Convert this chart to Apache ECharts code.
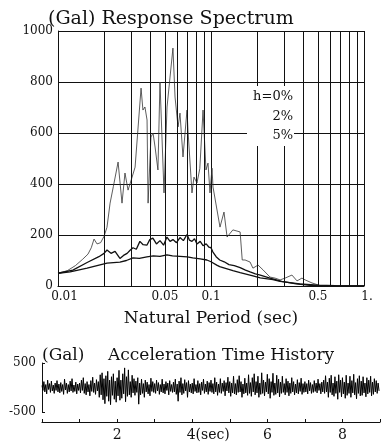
<!DOCTYPE html>
<html>
<head>
<meta charset="utf-8">
<script src="https://cdn.jsdelivr.net/npm/echarts@6/dist/echarts.min.js"></script>
<style>
html, body { margin: 0; padding: 0; background: #fff; }
#chart { width: 383px; height: 445px; }
</style>
</head>
<body>
<div id="chart"></div>
<script>
// 応答スペクトル：周期(sec) と 加速度(Gal)
const period0 = [0.01, 0.0115, 0.013, 0.0145, 0.0157, 0.0165, 0.0172, 0.018, 0.019, 0.02, 0.0209, 0.0219, 0.023, 0.0247, 0.0262, 0.0274, 0.0287, 0.0305, 0.0319, 0.0349, 0.0359, 0.037, 0.0382, 0.0388, 0.0405, 0.0418, 0.0431, 0.045, 0.0464, 0.0493, 0.0516, 0.0564, 0.0582, 0.0609, 0.0627, 0.0656, 0.0697, 0.0707, 0.0751, 0.0774, 0.081, 0.0845, 0.0887, 0.0927, 0.0956, 0.0985, 0.1015, 0.1031, 0.1145, 0.1216, 0.1274, 0.139, 0.155, 0.16, 0.167, 0.18, 0.188, 0.203, 0.219, 0.225, 0.243, 0.262, 0.283, 0.305, 0.338, 0.365, 0.393, 0.412, 0.457, 0.515, 0.7, 1.0];
const h0 = [50, 60, 80, 105, 125, 150, 184, 165, 170, 195, 230, 325, 390, 486, 325, 443, 376, 427, 466, 776, 690, 702, 651, 325, 584, 600, 545, 455, 800, 365, 702, 933, 741, 624, 678, 506, 690, 612, 365, 427, 404, 460, 690, 455, 482, 365, 462, 388, 231, 290, 192, 220, 212, 102, 102, 94, 70, 82, 63, 70, 35, 31, 24, 31, 43, 20, 31, 24, 12, 2, 0, 0];

const period2 = [0.01, 0.0125, 0.0155, 0.0185, 0.02, 0.0209, 0.0222, 0.0236, 0.0254, 0.0268, 0.0283, 0.0296, 0.0309, 0.0325, 0.0343, 0.036, 0.0381, 0.0398, 0.0417, 0.044, 0.0464, 0.049, 0.0515, 0.054, 0.0564, 0.0595, 0.0627, 0.066, 0.0697, 0.0722, 0.0751, 0.078, 0.081, 0.085, 0.0887, 0.093, 0.097, 0.1, 0.103, 0.108, 0.114, 0.122, 0.131, 0.142, 0.155, 0.168, 0.18, 0.195, 0.21, 0.243, 0.29, 0.36, 0.46, 0.6, 1.0];
const h2 = [50, 62, 92, 115, 128, 141, 128, 136, 108, 120, 128, 140, 150, 144, 175, 162, 160, 182, 188, 165, 178, 160, 192, 175, 182, 170, 190, 178, 202, 180, 175, 185, 165, 175, 158, 165, 152, 150, 133, 115, 102, 95, 84, 80, 72, 62, 55, 48, 43, 31, 18, 8, 2, 0, 0];

const period5 = [0.01, 0.012, 0.0155, 0.0209, 0.0254, 0.028, 0.0309, 0.034, 0.0381, 0.042, 0.0464, 0.0515, 0.056, 0.0627, 0.07, 0.076, 0.085, 0.094, 0.1, 0.109, 0.114, 0.139, 0.155, 0.188, 0.21, 0.254, 0.283, 0.38, 0.5, 0.65, 1.0];
const h5 = [50, 55, 70, 90, 94, 100, 110, 108, 114, 118, 116, 122, 118, 116, 114, 110, 106, 102, 95, 82, 76, 60, 52, 40, 32, 25, 18, 8, 3, 1, 0];

const periodTicks = [0.01, 0.05, 0.1, 0.5, 1];
const periodTickLabels = { 0.01: '{pad|}0.01', 0.05: '0.05', 0.1: '0.1', 0.5: '0.5', 1: '{pad2|}1.' };
const periodGrid = [0.02, 0.03, 0.04, 0.05, 0.06, 0.07, 0.08, 0.09, 0.2, 0.3, 0.4, 0.5, 0.6, 0.7, 0.8, 0.9];
const dampingLabels = ['h=0%', '2%', '5%'];

// 加速度時刻歴 (Gal)、刻み 0.025 sec
const DT = 0.025;
const accel = [
	40, -60, 120, -90, 60, -130, 150, -40, 80, -100, 130, -70, 50, -120, 90, -60, 140, -90, 70, -110,
	100, -80, 60, -140, 170, -50, 90, -120, 60, -90, 130, -70, 180, -100, 50, -80, 110, -130, 70, -60,
	90, -110, 150, -60, 200, -120, 80, -150, 120, -90, 60, -170, 140, -80, 210, -100, 90, -140, 160, -70,
	120, -200, 260, -150, 300, -250, 180, -330, 240, -180, 330, -280, 150, -350, 220, -160, 280, -240, 130, -300,
	200, -170, 350, -260, 150, -220, 280, -130, 400, -290, 220, -180, 360, -150, 120, -200, 250, -110, 180, -160,
	130, -100, 200, -340, 90, -150, 170, -120, 80, -200, 150, -90, 110, -130, 60, -170, 190, -80, 120, -100,
	80, -120, 150, -70, 100, -140, 60, -90, 170, -110, 70, -130, 120, -60, 90, -150, 140, -80, 60, -100,
	110, -90, 170, -140, 70, -280, 130, -100, 200, -150, 80, -120, 160, -70, 100, -200, 140, -90, 70, -110,
	90, -130, 180, -80, 60, -110, 140, -100, 80, -150, 110, -60, 170, -120, 70, -90, 130, -140, 100, -80,
	150, -100, 80, -130, 200, -90, 110, -160, 70, -100, 180, -120, 90, -80, 140, -170, 100, -70, 210, -110,
	120, -180, 90, -110, 230, -130, 80, -150, 160, -100, 240, -90, 120, -200, 70, -130, 190, -110, 90, -160,
	260, -120, 100, -180, 200, -90, 280, -150, 120, -110, 230, -200, 90, -140, 300, -120, 150, -170, 110, -90,
	270, -130, 180, -220, 120, -100, 290, -160, 90, -140, 250, -110, 170, -190, 110, -120, 230, -100, 80, -150,
	180, -100, 130, -170, 90, -120, 200, -90, 120, -150, 70, -110, 160, -130, 100, -80, 190, -140, 80, -100,
	120, -90, 80, -130, 150, -70, 100, -120, 60, -100, 140, -80, 90, -110, 170, -60, 80, -130, 110, -90,
	150, -120, 240, -90, 110, -200, 190, -100, 250, -150, 90, -180, 220, -120, 130, -240, 260, -100, 150, -190,
	200, -130, 110, -220, 250, -160, 90, -120, 230, -200, 140, -110, 270, -150, 100, -230, 180, -120, 240, -170,
	130, -160, 220, -110, 90, -190, 200, -130, 150, -100, 230, -170, 110, -140, 180, -90, 140, -120, 90, -70
];
const timeLabels = { 2: '2', 4: '{pad|}4(sec)', 6: '6', 8: '8' };

const FONT = '"DejaVu Serif", serif';
const INK = '#111';

const zip = (xs, ys) => xs.map((x, i) => [x, ys[i]]);

let $chart = echarts.init(document.getElementById('chart'));

const option = {
	animation: false,
	backgroundColor: '#fff',
	title: [
		{ text: '(Gal) Response Spectrum', left: 43, top: 5, textStyle: { fontFamily: FONT, fontSize: 19, fontWeight: 'normal', color: INK } },
		{ text: '(Gal)', left: 37, top: 342, textStyle: { fontFamily: FONT, fontSize: 17, fontWeight: 'normal', color: INK } },
		{ text: 'Acceleration Time History', left: 103, top: 342, textStyle: { fontFamily: FONT, fontSize: 17, fontWeight: 'normal', color: INK } }
	],
	grid: [
		{ left: 58, top: 31, width: 306, height: 255 },
		{ left: 42, top: 363, width: 341, height: 49 }
	],
	xAxis: [
		{
			gridIndex: 0, type: 'log', logBase: 10, min: 0.01, max: 1,
			name: 'Natural Period (sec)', nameLocation: 'middle', nameGap: 24,
			nameTextStyle: { fontFamily: FONT, fontSize: 17, color: INK },
			axisLine: { show: true, lineStyle: { color: INK, width: 1.2 } },
			axisTick: { show: false },
			splitLine: { show: true, lineStyle: { color: INK, width: 1 } },
			axisLabel: {
				customValues: periodTicks, margin: 5, fontFamily: FONT, fontSize: 12, color: INK,
				formatter: v => periodTickLabels[+(+v).toPrecision(2)],
				rich: { pad: { width: 13 }, pad2: { width: 6 } }
			}
		},
		{
			gridIndex: 1, type: 'value', min: 0, max: 9, interval: 1, offset: 10,
			axisLine: { show: true, onZero: false, lineStyle: { color: INK, width: 1.2 } },
			axisTick: { show: true, inside: true, length: 3, lineStyle: { color: INK } },
			splitLine: { show: false },
			axisLabel: {
				margin: 6, fontFamily: FONT, fontSize: 14, color: INK,
				formatter: v => timeLabels[v] || '',
				rich: { pad: { width: 32 } }
			}
		}
	],
	yAxis: [
		{
			gridIndex: 0, type: 'value', min: 0, max: 1000, interval: 200,
			axisLine: { show: true, lineStyle: { color: INK, width: 1 } },
			axisTick: { show: false },
			splitLine: { show: true, lineStyle: { color: INK, width: 1 } },
			axisLabel: { margin: 5, fontFamily: FONT, fontSize: 12, color: INK, formatter: v => String(v) }
		},
		{
			gridIndex: 1, type: 'value', min: -500, max: 500,
			axisLine: { show: true, lineStyle: { color: INK, width: 1 } },
			axisTick: { show: true, inside: true, length: 3, customValues: [-500, 500], lineStyle: { color: INK } },
			splitLine: { show: false },
			axisLabel: { customValues: [-500, 500], margin: 6, fontFamily: FONT, fontSize: 12, color: INK }
		}
	],
	series: [
		{
			name: dampingLabels[0], type: 'line', xAxisIndex: 0, yAxisIndex: 0,
			data: zip(period0, h0), symbol: 'none',
			lineStyle: { color: '#333', width: 0.8 },
			markLine: {
				silent: true, symbol: 'none', label: { show: false },
				lineStyle: { color: INK, width: 1, type: 'solid' },
				data: periodGrid.map(v => ({ xAxis: v }))
			}
		},
		{
			name: dampingLabels[1], type: 'line', xAxisIndex: 0, yAxisIndex: 0,
			data: zip(period2, h2), symbol: 'none',
			lineStyle: { color: INK, width: 1.3 }
		},
		{
			name: dampingLabels[2], type: 'line', xAxisIndex: 0, yAxisIndex: 0,
			data: zip(period5, h5), symbol: 'none',
			lineStyle: { color: INK, width: 1.3 }
		},
		{
			name: 'acc', type: 'line', xAxisIndex: 1, yAxisIndex: 1,
			data: accel.map((a, i) => [i * DT, a]), symbol: 'none',
			lineStyle: { color: '#000', width: 1 }
		}
	],
	graphic: [
		{ type: 'rect', z: 100, shape: { x: 247, y: 86, width: 47, height: 60 }, style: { fill: '#fff' } },
		{ type: 'text', z: 101, style: { text: dampingLabels[0], x: 293, y: 97, align: 'right', verticalAlign: 'middle', font: '13px ' + FONT, fill: INK } },
		{ type: 'text', z: 101, style: { text: dampingLabels[1], x: 293, y: 117, align: 'right', verticalAlign: 'middle', font: '13px ' + FONT, fill: INK } },
		{ type: 'text', z: 101, style: { text: dampingLabels[2], x: 293, y: 136, align: 'right', verticalAlign: 'middle', font: '13px ' + FONT, fill: INK } }
	]
};

$chart.setOption(option, true);
</script>
</body>
</html>
